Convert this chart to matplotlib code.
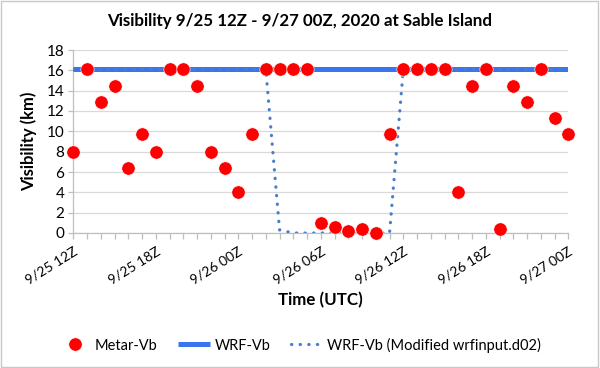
import matplotlib
matplotlib.use("Agg")
import matplotlib.pyplot as plt
from matplotlib.ticker import MultipleLocator
from matplotlib.patches import Rectangle
from matplotlib.transforms import ScaledTranslation

plt.rcParams['font.family'] = ['Lato', 'DejaVu Sans']

hours = list(range(37))
tick_labels = ["9/25 12Z", "9/25 18Z", "9/26 00Z", "9/26 06Z",
               "9/26 12Z", "9/26 18Z", "9/27 00Z"]
metar_vb = [8.0, 16.1, 12.9, 14.5, 6.4, 9.7, 8.0, 16.1, 16.1, 14.5,
            8.0, 6.4, 4.0, 9.7, 16.1, 16.1, 16.1, 16.1, 1.0, 0.6,
            0.2, 0.4, 0.0, 9.7, 16.1, 16.1, 16.1, 16.1, 4.0, 14.5,
            16.1, 0.4, 14.5, 12.9, 16.1, 11.3, 9.7]
wrf_vb = [16.1, 16.1, 16.1, 16.1, 16.1, 16.1, 16.1, 16.1, 16.1, 16.1,
          16.1, 16.1, 16.1, 16.1, 16.1, 16.1, 16.1, 16.1, 16.1, 16.1,
          16.1, 16.1, 16.1, 16.1, 16.1, 16.1, 16.1, 16.1, 16.1, 16.1,
          16.1, 16.1, 16.1, 16.1, 16.1, 16.1, 16.1]
wrf_vb_mod = [16.1, 16.1, 16.1, 16.1, 16.1, 16.1, 16.1, 16.1, 16.1, 16.1,
              16.1, 16.1, 16.1, 16.1, 16.1, 0.3, 0.0, 0.0, 0.0, 0.0,
              0.0, 0.0, 0.0, 0.0, 16.1, 16.1, 16.1, 16.1, 16.1, 16.1,
              16.1, 16.1, 16.1, 16.1, 16.1, 16.1, 16.1]

fig = plt.figure(figsize=(6.0, 3.68), dpi=100)
ax = fig.add_axes([73.3 / 600, 1 - 233 / 368, (568.3 - 73.3) / 600, (233 - 50) / 368])

ax.plot(hours, wrf_vb, color='#3a74ee', lw=3.6, solid_capstyle='butt',
        label='WRF-Vb', zorder=3)
ax.plot(hours, wrf_vb_mod, color='#4a7fc8', lw=2.3, linestyle=(0, (0.1, 2.6)),
        dash_capstyle='round', label='WRF-Vb (Modified wrfinput.d02)', zorder=4)
ax.plot(hours, metar_vb, linestyle='none', marker='o', ms=9.6, color='#ff0000',
        markeredgecolor='white', markeredgewidth=0.4, label='Metar-Vb',
        zorder=5, clip_on=False)

ax.set_xlim(0, 36)
ax.set_ylim(0, 18)
ax.yaxis.set_major_locator(MultipleLocator(2))
ax.set_xticks(list(range(0, 37, 6)))
ax.set_xticklabels(tick_labels, rotation=32, ha='right', va='top',
                   rotation_mode='anchor', fontsize=10)
offset = ScaledTranslation(6 / 100, 0, fig.dpi_scale_trans)
for lbl in ax.get_xticklabels():
    lbl.set_transform(lbl.get_transform() + offset)
ax.xaxis.set_minor_locator(MultipleLocator(1))
ax.tick_params(axis='x', which='both', direction='out', length=4.5,
               color='#bfbfbf', width=0.9, pad=4)
ax.tick_params(axis='y', direction='out', length=3.5, color='#bfbfbf',
               width=0.9, labelsize=11, pad=3)
ax.grid(axis='y', color='#d9d9d9', lw=0.9)
ax.set_axisbelow(True)
for s in ['top', 'right']:
    ax.spines[s].set_visible(False)
for s in ['left', 'bottom']:
    ax.spines[s].set_color('#bfbfbf')
    ax.spines[s].set_linewidth(0.9)

fig.text(0.5, 1 - 21 / 368, 'Visibility 9/25 12Z - 9/27 00Z, 2020 at Sable Island',
         ha='center', va='center', fontsize=12.2, fontweight='bold')
fig.text(29 / 600, 1 - 141 / 368, 'Visibility (km)', rotation=90, ha='center',
         va='center', fontsize=12, fontweight='bold')
fig.text(320.8 / 600, 1 - 300 / 368, 'Time (UTC)', ha='center', va='center',
         fontsize=12.2, fontweight='bold')

h, l = ax.get_legend_handles_labels()
order = [2, 0, 1]
fig.legend([h[i] for i in order], [l[i] for i in order], loc='center',
           bbox_to_anchor=(300 / 600, 1 - 345 / 368), ncol=3, frameon=False,
           fontsize=10.5, handlelength=2.2, handletextpad=0.3, columnspacing=1.4)

fig.patches.append(Rectangle((0.002, 0.003), 0.994, 0.994, transform=fig.transFigure,
                             fill=False, edgecolor='#c8c8c8', lw=1.0))

fig.savefig('out.png', dpi=100)
